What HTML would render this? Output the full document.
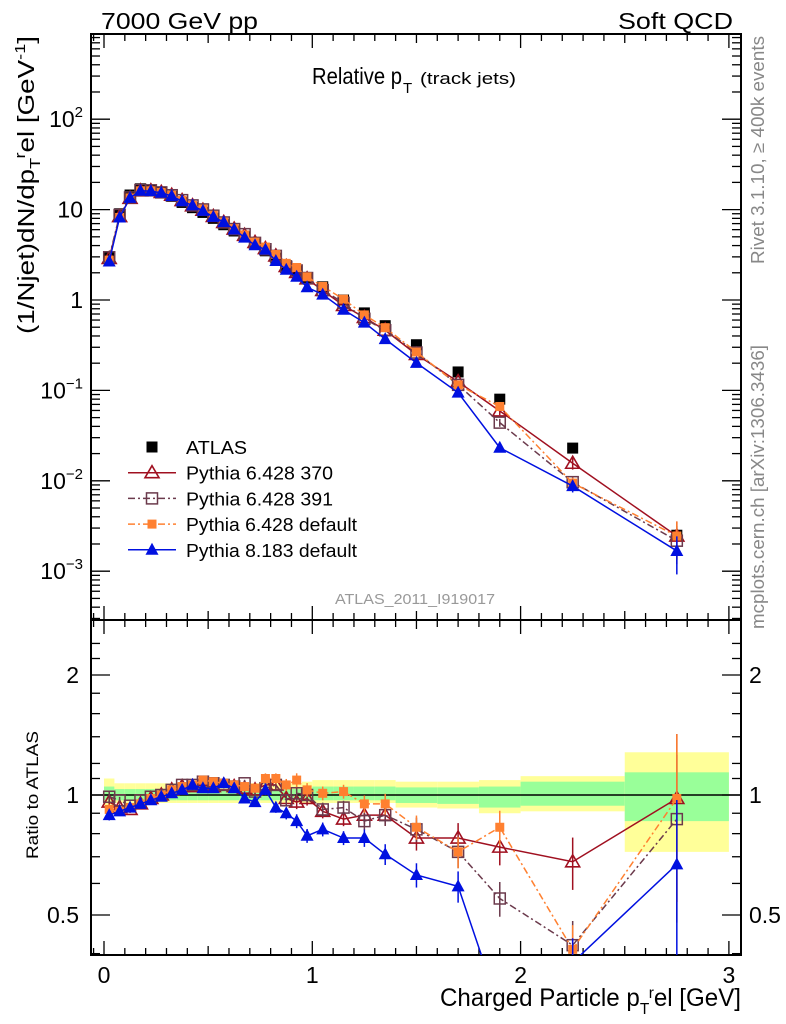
<!DOCTYPE html>
<html><head><meta charset="utf-8"><style>
body{margin:0;background:#fff;}
svg{display:block;font-family:"Liberation Sans",sans-serif;}
</style></head><body>
<svg id="chart" width="786" height="1024" viewBox="0 0 786 1024" xmlns="http://www.w3.org/2000/svg">
<rect width="786" height="1024" fill="#fff"/>
<g id="bands"></g><g id="grid"></g><g id="series"></g>
<text x="101" y="29" font-size="23" textLength="157" lengthAdjust="spacingAndGlyphs">7000 GeV pp</text>
<text x="618" y="29" font-size="23" textLength="115" lengthAdjust="spacingAndGlyphs">Soft QCD</text>
<text x="312" y="84" font-size="23" textLength="90" lengthAdjust="spacingAndGlyphs">Relative p</text>
<text x="403" y="93" font-size="15">T</text>
<text x="420" y="84" font-size="17" textLength="96" lengthAdjust="spacingAndGlyphs">(track jets)</text>
<text transform="translate(764,150) rotate(-90)" font-size="18" fill="#888" text-anchor="middle" textLength="228" lengthAdjust="spacingAndGlyphs">Rivet 3.1.10, ≥ 400k events</text>
<text transform="translate(764,487) rotate(-90)" font-size="18" fill="#888" text-anchor="middle" textLength="284" lengthAdjust="spacingAndGlyphs">mcplots.cern.ch [arXiv:1306.3436]</text>
<text x="415" y="604" font-size="15" fill="#999" text-anchor="middle" textLength="160" lengthAdjust="spacingAndGlyphs">ATLAS_2011_I919017</text>
<text transform="translate(34,185) rotate(-90)" font-size="23" text-anchor="middle" textLength="298" lengthAdjust="spacingAndGlyphs">(1/Njet)dN/dp<tspan font-size="15" dy="6">T</tspan><tspan font-size="15" dy="-15">r</tspan><tspan dy="9">el [GeV</tspan><tspan font-size="15" dy="-9">-1</tspan><tspan dy="9">]</tspan></text>
<text transform="translate(38,795) rotate(-90)" font-size="17" text-anchor="middle" textLength="128" lengthAdjust="spacingAndGlyphs">Ratio to ATLAS</text>
<text x="440" y="1006" font-size="25" textLength="301" lengthAdjust="spacingAndGlyphs">Charged Particle p<tspan font-size="16" dy="8">T</tspan><tspan font-size="16" dy="-16">r</tspan><tspan dy="8">el [GeV]</tspan></text>
<g id="legend"></g>
</svg>
<script>
const xs=[0.025,0.075,0.125,0.175,0.225,0.275,0.325,0.375,0.425,0.475,0.525,0.575,0.625,0.675,0.725,0.775,0.825,0.875,0.925,0.975,1.05,1.15,1.25,1.35,1.5,1.7,1.9,2.25,2.75];
const atlas=[3.0,9.0,14.5,17,16.5,15.5,14,12,10.5,9.3,8,6.8,5.8,5.0,4.2,3.5,2.9,2.4,2.1,1.75,1.4,1.0,0.72,0.52,0.32,0.16,0.08,0.023,0.0025];
const r370=[0.96,0.93,0.92,0.95,0.98,1.0,1.03,1.05,1.05,1.06,1.05,1.06,1.05,1.04,1.03,1.06,1.06,0.98,0.96,0.98,0.91,0.87,0.89,0.89,0.78,0.78,0.74,0.68,0.98];
const r391=[0.99,0.97,0.94,0.97,0.99,1.0,1.03,1.06,1.06,1.08,1.07,1.06,1.05,1.07,1.02,1.04,1.06,0.97,1.01,1.0,0.92,0.93,0.86,0.89,0.82,0.72,0.55,0.42,0.87];
const rdef=[0.92,0.91,0.93,0.95,0.98,1.0,1.03,1.05,1.06,1.09,1.08,1.07,1.06,1.05,1.04,1.10,1.10,1.06,1.09,1.03,1.01,1.02,0.95,0.95,0.83,0.72,0.83,0.41,0.98];
const r8=[0.89,0.91,0.93,0.95,0.97,0.99,1.01,1.03,1.06,1.04,1.04,1.07,1.04,0.98,0.96,1.03,0.93,0.90,0.86,0.79,0.82,0.78,0.78,0.71,0.63,0.59,0.29,0.38,0.67];
const relErr=[0.03,0.02,0.02,0.02,0.02,0.02,0.02,0.02,0.02,0.02,0.02,0.02,0.02,0.02,0.025,0.03,0.03,0.035,0.04,0.04,0.04,0.04,0.05,0.06,0.07,0.09,0.1,0.15,0.45];
const binEdges=[0,0.05,0.1,0.15,0.2,0.25,0.3,0.35,0.4,0.45,0.5,0.55,0.6,0.65,0.7,0.75,0.8,0.85,0.9,0.95,1.0,1.1,1.2,1.3,1.4,1.6,1.8,2.0,2.5,3.0];
const yelUp=[0.10,0.07,0.07,0.07,0.07,0.07,0.07,0.07,0.07,0.07,0.07,0.07,0.07,0.07,0.07,0.07,0.07,0.07,0.07,0.08,0.09,0.09,0.09,0.09,0.08,0.08,0.09,0.115,0.28];
const yelDn=[0.06,0.045,0.045,0.045,0.045,0.045,0.045,0.045,0.045,0.045,0.045,0.045,0.045,0.045,0.045,0.045,0.045,0.045,0.045,0.045,0.045,0.045,0.045,0.045,0.07,0.075,0.10,0.09,0.28];
const grnUp=[0.05,0.035,0.035,0.035,0.035,0.035,0.035,0.035,0.035,0.035,0.035,0.035,0.035,0.035,0.035,0.035,0.035,0.035,0.035,0.04,0.05,0.05,0.05,0.05,0.045,0.045,0.05,0.08,0.14];
const grnDn=[0.03,0.03,0.03,0.03,0.03,0.03,0.03,0.03,0.03,0.03,0.03,0.03,0.03,0.03,0.03,0.03,0.03,0.03,0.03,0.03,0.03,0.03,0.03,0.03,0.045,0.05,0.07,0.06,0.14];
const mainTicks=[2,1,0,-1,-2,-3];
const ratioTicks=[2,1,0.5];
const xTicks=[0,1,2,3];

const NS="http://www.w3.org/2000/svg";
const L=91,R=741,T=34,MB=620,RB=955;
const X=v=>104+v*208.3;
const YM=v=>300-Math.log10(v)*90.4;
const YR=v=>795-Math.log2(v)*120;
function mk(tag,attrs,parent){const e=document.createElementNS(NS,tag);for(const k in attrs)e.setAttribute(k,attrs[k]);parent.appendChild(e);return e;}
const svg=document.getElementById('chart');
const bands=document.getElementById('bands'),grid=document.getElementById('grid'),ser=document.getElementById('series'),leg=document.getElementById('legend');

const defs=mk('defs',{},svg);
const c1=mk('clipPath',{id:'cm'},defs);mk('rect',{x:L,y:T,width:R-L,height:MB-T},c1);
const c2=mk('clipPath',{id:'cr'},defs);mk('rect',{x:L,y:MB,width:R-L,height:RB-MB},c2);
bands.setAttribute('clip-path','url(#cr)');

for(let i=0;i<binEdges.length-1;i++){
  const x0=X(binEdges[i]),x1=X(binEdges[i+1]);
  const y=mk('rect',{x:x0,y:YR(1+yelUp[i]),width:x1-x0,height:YR(1-yelDn[i])-YR(1+yelUp[i]),fill:'#ffff99'},bands);
  
  
  const g=mk('rect',{x:x0,y:YR(1+grnUp[i]),width:x1-x0,height:YR(1-grnDn[i])-YR(1+grnUp[i]),fill:'#99ff99'},bands);
  
  
}
mk('line',{x1:L,x2:R,y1:YR(1),y2:YR(1),stroke:'#000','stroke-width':1.5},grid);

mk('rect',{x:L,y:T,width:R-L,height:MB-T,fill:'none',stroke:'#000','stroke-width':2},grid);
mk('rect',{x:L,y:MB,width:R-L,height:RB-MB,fill:'none',stroke:'#000','stroke-width':2},grid);

[[T,MB],[MB,RB]].forEach(([top,bot])=>{
  for(let k=0;k<=30;k++){const v=k/10;if(X(v)>R)break;
    const len=(k%10===0)?14:(k%5===0?9:7);
    mk('line',{x1:X(v),x2:X(v),y1:bot,y2:bot-len,stroke:'#000','stroke-width':1.3},grid);
    mk('line',{x1:X(v),x2:X(v),y1:top,y2:top+len,stroke:'#000','stroke-width':1.3},grid);}
  mk('line',{x1:X(-0.05),x2:X(-0.05),y1:bot,y2:bot-7,stroke:'#000','stroke-width':1.3},grid);
  mk('line',{x1:X(-0.05),x2:X(-0.05),y1:top,y2:top+7,stroke:'#000','stroke-width':1.3},grid);
});
xTicks.forEach(v=>{const t=mk('text',{x:X(v),y:983,'font-size':23,'text-anchor':'middle'},grid);t.textContent=String(v);
  
  });

for(let d=-4;d<=3;d++){for(let m=1;m<10;m++){const v=m*Math.pow(10,d);const y=YM(v);if(y<T||y>MB)continue;
  const len=m===1?19:9;
  mk('line',{x1:L,x2:L+len,y1:y,y2:y,stroke:'#000','stroke-width':1.3},grid);
  mk('line',{x1:R,x2:R-len,y1:y,y2:y,stroke:'#000','stroke-width':1.3},grid);}}
mainTicks.forEach(e=>{const y=YM(Math.pow(10,e));
  const t=mk('text',{x:83,y:y+8,'font-size':23,'text-anchor':'end'},grid);
  
  
  if(e===0)t.textContent='1';else if(e===1)t.textContent='10';
  else{t.innerHTML='10<tspan font-size="15" dy="-10">'+(e<0?'−'+(-e):e)+'</tspan>';}
});
for(let v=0.4;v<=2.6;v+=0.1){const vv=Math.round(v*10)/10;const y=YR(vv);if(y<MB||y>RB)continue;
  const major=(vv===0.5||vv===1||vv===2);const len=major?19:9;
  if(!major&&vv>1.2&&Math.round(vv*10)%2!==0)continue;
  mk('line',{x1:L,x2:L+len,y1:y,y2:y,stroke:'#000','stroke-width':1.3},grid);
  mk('line',{x1:R,x2:R-len,y1:y,y2:y,stroke:'#000','stroke-width':1.3},grid);}
ratioTicks.forEach(v=>{const y=YR(v);
  const t=mk('text',{x:79,y:y+8,'font-size':23,'text-anchor':'end'},grid);t.textContent=String(v);
  
  
  const t2=mk('text',{x:749,y:y+8,'font-size':23},grid);t2.textContent=String(v);
  
  });

function marker(kind,color,x,y,parent,s){
  s=s||1;
  if(kind==='sq') return mk('rect',{x:x-5*s,y:y-5*s,width:10*s,height:10*s,fill:color},parent);
  if(kind==='osq') return mk('rect',{x:x-5.5,y:y-5.5,width:11,height:11,fill:'none',stroke:color,'stroke-width':1.5},parent);
  if(kind==='fsq') return mk('rect',{x:x-4.5,y:y-4.5,width:9,height:9,fill:color},parent);
  if(kind==='otri') return mk('polygon',{points:`${x},${y-7} ${x-7},${y+5} ${x+7},${y+5}`,fill:'none',stroke:color,'stroke-width':1.6},parent);
  if(kind==='ftri') return mk('polygon',{points:`${x},${y-7} ${x-6.5},${y+5} ${x+6.5},${y+5}`,fill:color},parent);
}
const series=[
  {name:'Pythia 6.428 370',r:r370,color:'#a01020',kind:'otri',dash:'',id:'pythia-370',w:147},
  {name:'Pythia 6.428 391',r:r391,color:'#6b3a4c',kind:'osq',dash:'7,3,2,3',id:'pythia-391',w:147},
  {name:'Pythia 6.428 default',r:rdef,color:'#ff8030',kind:'fsq',dash:'7,3,2,3',id:'pythia6-default',w:171},
  {name:'Pythia 8.183 default',r:r8,color:'#0010e0',kind:'ftri',dash:'',id:'pythia8-default',w:171}
];
const gm=mk('g',{'clip-path':'url(#cm)'},ser);
const gr=mk('g',{'clip-path':'url(#cr)'},ser);
atlas.forEach((v,i)=>{const m=marker('sq','#000',X(xs[i]),YM(v),gm,1.1);
  
  });
series.forEach(s=>{
  const vals=s.r.map((r,i)=>r*atlas[i]);
  const pm=vals.map((v,i)=>X(xs[i])+','+YM(v)).join(' ');
  const l1=mk('polyline',{points:pm,fill:'none',stroke:s.color,'stroke-width':1.5,'stroke-dasharray':s.dash},gm);
  
  
  const pr=s.r.map((v,i)=>X(xs[i])+','+YR(v)).join(' ');
  const l2=mk('polyline',{points:pr,fill:'none',stroke:s.color,'stroke-width':1.5,'stroke-dasharray':s.dash},gr);
  
  
  s.r.forEach((r,i)=>{
    const x=X(xs[i]);const e=relErr[i];
    mk('line',{x1:x,x2:x,y1:YR(r*(1+e)),y2:YR(Math.max(r*(1-e),0.01)),stroke:s.color,'stroke-width':1.5},gr);
    const m=marker(s.kind,s.color,x,YR(r),gr);
    
    
    const v=vals[i];
    if(i>=26) mk('line',{x1:x,x2:x,y1:YM(v*(1+e)),y2:YM(v*Math.max(1-e,0.3)),stroke:s.color,'stroke-width':1.5},gm);
    const m2=marker(s.kind,s.color,x,YM(v),gm);
    
    
  });
});
const legItems=[{name:'ATLAS',kind:'sq',color:'#000',dash:null,w:61}].concat(series);
legItems.forEach((s,i)=>{
  const y=447+i*25.7;
  const g=mk('g',{},leg);
  
  
  if(s.dash!==null) mk('line',{x1:128,x2:176,y1:y,y2:y,stroke:s.color,'stroke-width':1.5,'stroke-dasharray':s.dash},g);
  marker(s.kind,s.color,152,y,g,s.kind==='sq'?1.1:1);
  const t=mk('text',{x:186,y:y+7,'font-size':18,textLength:s.w,lengthAdjust:'spacingAndGlyphs'},g);t.textContent=s.name;
});
</script>
</body></html>
